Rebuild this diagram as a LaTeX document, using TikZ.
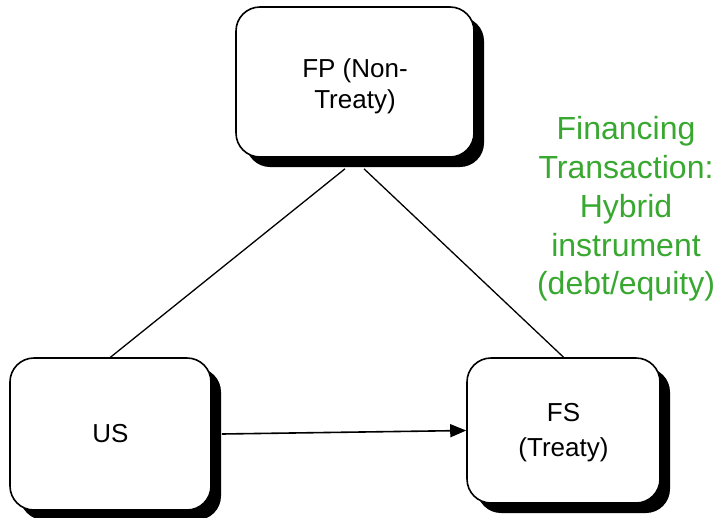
\documentclass[tikz,border=0pt]{standalone}
\usepackage{fontspec}
\setmainfont{Liberation Sans}
\usetikzlibrary{arrows.meta,calc,shadows}
\definecolor{labelgreen}{RGB}{56,168,48}
\begin{document}
\begin{tikzpicture}[x=1pt,y=-1pt,
  entity/.style={draw=black,line width=1.6pt,fill=white,rounded corners=24pt,
    align=center,font=\fontsize{26}{31}\selectfont,inner sep=0pt,
    drop shadow={shadow xshift=10pt,shadow yshift=-10pt,fill=black,opacity=1}},
  caption/.style={align=center,font=\fontsize{26}{31}\selectfont,inner sep=0pt},
  link/.style={line width=1.3pt},
  flow/.style={line width=1.6pt,-{Triangle[length=16pt,width=13pt]}}]
\useasboundingbox (0,0) rectangle (719,517);
\node[entity,minimum width=238pt,minimum height=150pt,
  label={[caption,yshift=-4pt]center:FP (Non-\\Treaty)}] (fp) at (355,82) {};
\node[entity,minimum width=201pt,minimum height=152pt] (us) at (110.5,434) {US};
\node[entity,minimum width=193pt,minimum height=145pt,
  label={[caption,font=\fontsize{26}{35}\selectfont,yshift=-2pt]center:FS\\(Treaty)}] (fs) at (563.5,430.5) {};
\node[text=labelgreen,align=center,font=\fontsize{32}{38.75}\selectfont] (note) at (626,209) {Financing\\Transaction:\\Hybrid\\instrument\\(debt/equity)};
\coordinate (fpl) at ($(fp.south)+(-10,11)$);
\coordinate (fpr) at ($(fp.south)+(9,11)$);
\coordinate (usr) at ($(us.east)+(10,0)$);
\draw[link] (fpl) -- (us.north);
\draw[link] (fpr) -- (fs.north);
\draw[flow] (usr) -- (fs.west);
\end{tikzpicture}
\end{document}
